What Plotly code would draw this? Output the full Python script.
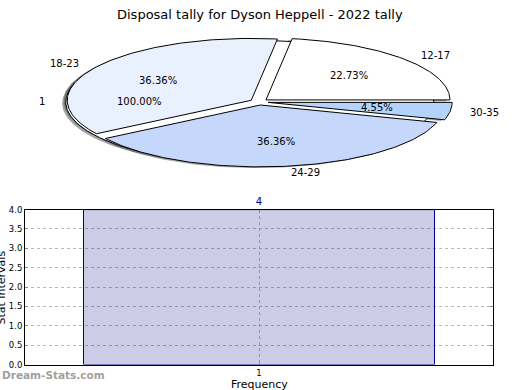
import numpy as np
import plotly.graph_objects as go

# ---- data ----
title_text = "Disposal tally for Dyson Heppell - 2022 tally"
pie_labels = ["12-17", "18-23", "24-29", "30-35"]
pie_values = [5, 8, 8, 1]
pie_colors = ["#ffffff", "#eaf1fe", "#c5d8fc", "#b3d3fb"]
outer_labels = ["1"]
outer_values = [1]
outer_colors = ["#ffffff"]
bar_x = [1]
bar_y = [4]
bar_text = ["4"]
y_ticks = [0.0, 0.5, 1.0, 1.5, 2.0, 2.5, 3.0, 3.5, 4.0]

EXPLODE = 0.05
FONT = "DejaVu Sans"
W, H = 520, 390
# pie placement in pixels
CX, CY, RX, RY = 259.0, 99.5, 184.0, 63.5

fig = go.Figure()


def wedge_xy(t1, t2, off):
    th = np.radians(np.linspace(t1, t2, max(int(abs(t2 - t1)), 2) + 1))
    xs = [off[0]] + list(off[0] + np.cos(th)) + [off[0]]
    ys = [off[1]] + list(off[1] + np.sin(th)) + [off[1]]
    return xs, ys


def pie_geometry(values):
    tot = float(sum(values))
    out = []
    a = 0.0
    for v in values:
        span = 360.0 * v / tot
        mid = a + span / 2
        off = (EXPLODE * np.cos(np.radians(mid)), EXPLODE * np.sin(np.radians(mid)))
        out.append((a, a + span, mid, off, v / tot * 100))
        a += span
    return out


main_geo = pie_geometry(pie_values)
outer_geo = pie_geometry(outer_values)

shadow_col = "rgba(60,60,60,0.45)"
# shadows of main wedges
for (t1, t2, mid, off, pct) in main_geo:
    xs, ys = wedge_xy(t1, t2, (off[0] - 0.02, off[1] - 0.02))
    fig.add_trace(go.Scatter(x=xs, y=ys, mode="lines", fill="toself", fillcolor=shadow_col,
                             line=dict(width=0), hoverinfo="skip", showlegend=False,
                             xaxis="x", yaxis="y"))
# outer single-value pie (shadow + wedge)
for (t1, t2, mid, off, pct), col in zip(outer_geo, outer_colors):
    xs, ys = wedge_xy(t1, t2, (off[0] - 0.02, off[1] - 0.02))
    fig.add_trace(go.Scatter(x=xs, y=ys, mode="lines", fill="toself", fillcolor=shadow_col,
                             line=dict(width=0), hoverinfo="skip", showlegend=False,
                             xaxis="x", yaxis="y"))
    th = np.radians(np.linspace(0, 360, 361))
    fig.add_trace(go.Scatter(x=off[0] + np.cos(th), y=off[1] + np.sin(th), mode="lines",
                             fill="toself", fillcolor=col, line=dict(color="black", width=1),
                             hoverinfo="skip", showlegend=False, xaxis="x", yaxis="y"))
# main wedges
for (t1, t2, mid, off, pct), col in zip(main_geo, pie_colors):
    xs, ys = wedge_xy(t1, t2, off)
    fig.add_trace(go.Scatter(x=xs, y=ys, mode="lines", fill="toself", fillcolor=col,
                             line=dict(color="black", width=1), hoverinfo="skip",
                             showlegend=False, xaxis="x", yaxis="y"))

annotations = []


def add_pie_labels(geo, labels):
    for (t1, t2, mid, off, pct), lab in zip(geo, labels):
        c, s = np.cos(np.radians(mid)), np.sin(np.radians(mid))
        annotations.append(dict(x=off[0] + 1.1 * c, y=off[1] + 1.1 * s, xref="x", yref="y",
                                text=lab, showarrow=False,
                                xanchor="left" if c > 0 else "right", yanchor="middle",
                                font=dict(family=FONT, size=10, color="black")))
        annotations.append(dict(x=off[0] + 0.6 * c, y=off[1] + 0.6 * s, xref="x", yref="y",
                                text=f"{pct:.2f}%", showarrow=False,
                                xanchor="center", yanchor="middle",
                                font=dict(family=FONT, size=10, color="black")))


add_pie_labels(main_geo, pie_labels)
add_pie_labels(outer_geo, outer_labels)

# bar chart
fig.add_trace(go.Bar(x=bar_x, y=bar_y, width=0.75, text=bar_text, textposition="outside",
                     cliponaxis=False, textfont=dict(family=FONT, size=10, color="#00008b"),
                     marker=dict(color="rgba(0,0,128,0.2)", line=dict(color="#00008b", width=1)),
                     hoverinfo="skip", showlegend=False, xaxis="x2", yaxis="y2"))

# title & other texts
annotations.append(dict(x=0.5, y=1 - 10 / H, xref="paper", yref="paper", text=title_text,
                        showarrow=False, xanchor="center", yanchor="middle",
                        font=dict(family=FONT, size=13, color="black")))
annotations.append(dict(x=2 / W, y=1 - 290 / H, xref="paper", yref="paper", text="Stat Intervals",
                        textangle=-90, showarrow=False, xanchor="center", yanchor="middle",
                        font=dict(family=FONT, size=11, color="black")))
annotations.append(dict(x=259 / W, y=1 - 389 / H, xref="paper", yref="paper", text="Frequency",
                        showarrow=False, xanchor="center", yanchor="middle",
                        font=dict(family=FONT, size=11, color="black")))
annotations.append(dict(x=0, y=1 - 380 / H, xref="paper", yref="paper", text="<b>Dream-Stats.com</b>",
                        showarrow=False, xanchor="left", yanchor="middle",
                        font=dict(family=FONT, size=10.5, color="#a0a0a0")))

pie_x_range = [-CX / RX, (W - CX) / RX]
pie_h = 195.0
pie_y_range = [CY / RY - pie_h / RY, CY / RY]

axis_common = dict(showline=True, linecolor="black", linewidth=1, mirror="ticks",
                   showgrid=True, gridcolor="#b8b8b8", griddash="dot", gridwidth=1,
                   zeroline=False, ticks="inside", ticklen=3, tickcolor="#888888",
                   tickfont=dict(family=FONT, size=8.5, color="black"), fixedrange=True)

fig.update_layout(
    width=W, height=H, margin=dict(l=0, r=0, t=0, b=0),
    paper_bgcolor="white", plot_bgcolor="rgba(0,0,0,0)",
    xaxis=dict(domain=[0, 1], range=pie_x_range, visible=False, fixedrange=True),
    yaxis=dict(domain=[1 - pie_h / H, 1], range=pie_y_range, visible=False, fixedrange=True),
    xaxis2=dict(domain=[25 / W, 493 / W], range=[0.5, 1.5], tickvals=bar_x,
                ticktext=[str(v) for v in bar_x], anchor="y2", **axis_common),
    yaxis2=dict(domain=[1 - 369 / H, 1 - 210 / H], range=[0, 4], tickvals=y_ticks,
                ticktext=[f"{v:.1f}" for v in y_ticks], anchor="x2", **axis_common),
    annotations=annotations,
    showlegend=False,
)

fig.write_html("out.html", config={"displayModeBar": False},
               post_script="document.body.style.margin='0';")
